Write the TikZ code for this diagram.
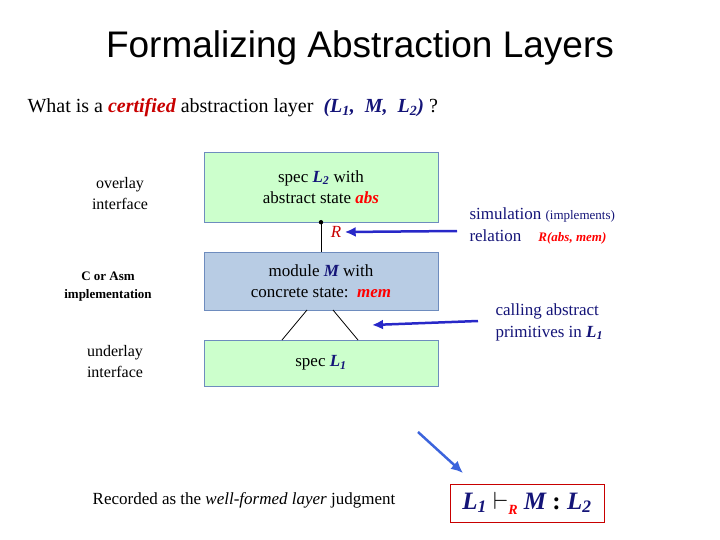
\documentclass[tikz,border=0pt]{standalone}
\usepackage{fontspec}
\setmainfont{Liberation Serif}
\newfontfamily\titlefont{Liberation Sans}
\usetikzlibrary{arrows.meta}
\definecolor{boxgreen}{RGB}{204,255,204}
\definecolor{boxblue}{RGB}{184,204,228}
\definecolor{bordblue}{RGB}{110,140,190}
\definecolor{navy}{RGB}{20,20,120}
\definecolor{arrblue}{RGB}{40,40,200}
\definecolor{diagblue}{RGB}{60,100,220}
\definecolor{darkred}{RGB}{200,0,0}
\newcommand{\mv}[1]{\textbf{\textit{\color{navy}#1}}}
\newcommand{\rv}[1]{\textbf{\textit{\color{red}#1}}}
\begin{document}
\begin{tikzpicture}[x=1pt,y=-1pt,
  layerbox/.style={draw=bordblue,fill=boxgreen,minimum width=234pt,align=center,font=\fontsize{17}{21}\selectfont},
  lbl/.style={align=center,font=\fontsize{16}{21}\selectfont},
  bluearr/.style={arrblue,line width=2.5pt,-{Latex[length=11pt,width=10pt]}}]
\useasboundingbox (0,0) rectangle (720,540);
\node[font=\titlefont\fontsize{37}{40}\selectfont] (title) at (360,48) {Formalizing Abstraction Layers};
\node[anchor=west,font=\fontsize{20}{24}\selectfont] (q) at (24,108) {What is a \textbf{\textit{\color{darkred}certified}} abstraction layer\ \ \mv{(L\textsubscript{1},\ \ M,\ \ L\textsubscript{2})}\ ?};
\node[layerbox,minimum height=70pt] (top) at (321,187) {spec \mv{L\textsubscript{2}} with\\abstract state \rv{abs}};
\node[layerbox,fill=boxblue,minimum height=58pt] (mod) at (321,281) {module \mv{M} with\\concrete state:\ \ \rv{mem}};
\node[layerbox,minimum height=46pt] (bot) at (321,363) {spec \mv{L\textsubscript{1}}};
\draw[thick] (top.south) coordinate (d) -- (mod.north);
\fill (d) circle (2.2pt);
\node[text=darkred,font=\itshape\fontsize{17}{20}\selectfont] (R) at (336,232) {R};
\coordinate (m1) at (307,310); \coordinate (m2) at (333,310);
\coordinate (b1) at (282,340); \coordinate (b2) at (358,340);
\draw[thick] (m1) -- (b1); \draw[thick] (m2) -- (b2);
\node[lbl] (ov) at (120,194) {overlay\\interface};
\node[lbl,font=\bfseries\fontsize{13}{18}\selectfont] (ca) at (108,287) {C or Asm\\implementation};
\node[lbl] (un) at (115,362) {underlay\\interface};
\node[anchor=west,align=left,text=navy,font=\fontsize{17}{22}\selectfont] (sim) at (466,226) {simulation {\fontsize{13}{15}\selectfont(implements)}\\relation\ \ \ \ {\fontsize{13}{15}\selectfont\rv{R(abs, mem)}}};
\node[anchor=west,align=left,text=navy,font=\fontsize{17}{22}\selectfont] (call) at (492,322) {calling abstract\\primitives in \mv{L\textsubscript{1}}};
\coordinate (a1) at (457,231); \coordinate (a2) at (478,321);
\draw[bluearr] (a1) -- (R.east);
\draw[bluearr] (a2) -- (372,325);
\coordinate (dg1) at (418,432); \coordinate (dg2) at (463,473);
\draw[diagblue,line width=2.5pt,-{Latex[length=12pt,width=11pt]}] (dg1) -- (dg2);
\node[font=\fontsize{17}{20}\selectfont] (rec) at (244,500) {Recorded as the \textit{well-formed layer} judgment};
\node[draw=darkred,minimum width=154pt,minimum height=38pt,font=\fontsize{25}{28}\selectfont] (j) at (527,503) {\mv{L\textsubscript{1}}\ \raisebox{0pt}{$\vdash$}\raisebox{-5pt}{\fontsize{14}{14}\selectfont\rv{R}}\ \mv{M} \textbf{:}\ \mv{L\textsubscript{2}}};
\end{tikzpicture}
\end{document}
